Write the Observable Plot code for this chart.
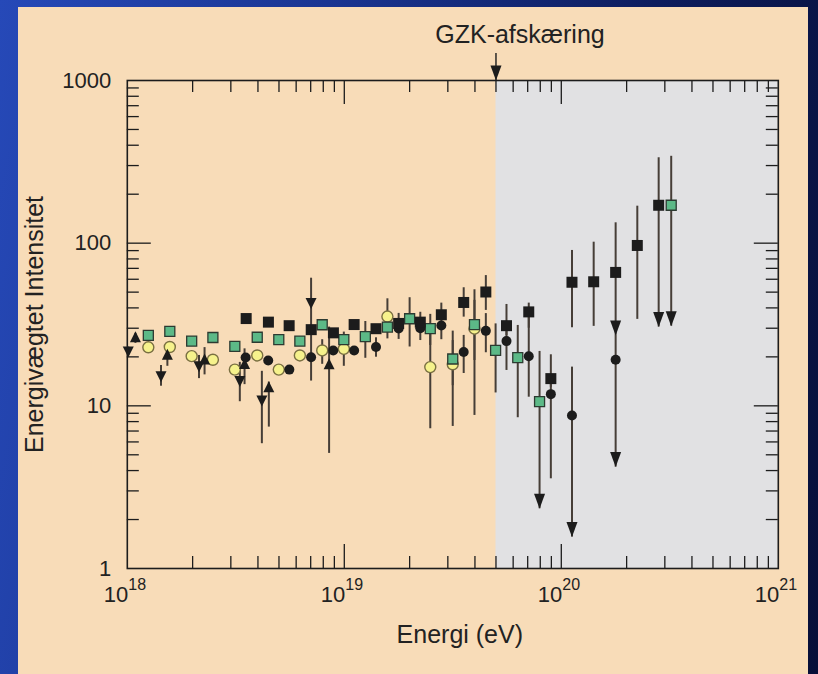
<!DOCTYPE html>
<html><head><meta charset="utf-8">
<script src="https://cdn.jsdelivr.net/npm/d3@7"></script>
<script src="https://cdn.jsdelivr.net/npm/@observablehq/plot@0.6"></script>
<style>
html,body{margin:0;padding:0;}
body{width:818px;height:674px;overflow:hidden;position:relative;
 background: linear-gradient(100deg,#2649b8 0%,#1a3592 35%,#0d1d5e 70%,#070f38 100%);}
#panel{position:absolute;left:18px;top:7px;width:790px;height:667px;background:#f8dcb8;}
#chart{position:absolute;left:0;top:0;}
</style></head><body><div id="panel"></div><div id="chart"></div>
<script>
// ---------- data ----------
const xTitle = "Energi (eV)";
const yTitle = "Energivægtet Intensitet";
const gzkLabel = "GZK-afskæring";
const gzkE = 5e19;
const xDecades = [1e18, 1e19, 1e20, 1e21];
const xExponents = ["18", "19", "20", "21"];
const yTicks = [1, 10, 100, 1000];
const yTickLabels = ["1", "10", "100", "1000"];

// black squares
const sqE  = [3.53e18, 4.47e18, 5.57e18, 7.04e18, 8.91e18, 1.11e19, 1.40e19, 1.78e19, 2.24e19, 2.80e19, 3.55e19, 4.49e19, 5.59e19, 7.08e19, 8.95e19, 1.12e20, 1.41e20, 1.78e20, 2.24e20, 2.81e20];
const sqV  = [34.4, 32.7, 31.1, 29.4, 28.1, 31.6, 29.8, 32.1, 32.7, 36.3, 43.2, 50.1, 31.1, 37.8, 14.7, 57.5, 57.9, 66.1, 96.8, 171];
const sqLo = [null, null, null, null, null, null, null, 30, 31, 33, 35.1, 38.6, 27, 30, 13, 30.2, 30.8, 27.1, 34.0, 30.5];
const sqHi = [null, null, null, null, null, null, null, 37, 37.6, 42.8, 53.2, 63.2, 42.0, 42.8, 20.6, 90.2, 101.4, 133.4, 168.8, 335];
const sqLim = [0,0,0,0,0,0,0,0,0,0,0,0,0,0,0,0,0,1,0,1];

// black circles
const ciE  = [3.51e18, 4.46e18, 5.58e18, 7.03e18, 8.89e18, 1.11e19, 1.40e19, 1.78e19, 2.24e19, 2.80e19, 3.55e19, 4.49e19, 5.59e19, 7.08e19, 8.95e19, 1.12e20, 1.78e20];
const ciV  = [19.8, 19.0, 16.7, 19.9, 21.9, 21.9, 23.0, 29.9, 30.0, 31.2, 21.4, 28.9, 25.0, 20.2, 11.8, 8.73, 19.2];
const ciLo = [null, null, null, null, null, null, 19.9, 25.6, 25.2, 25.5, 15.8, 21.2, 16.5, 11.3, 3.56, 1.56, 4.2];
const ciHi = [null, null, null, null, null, null, 26.2, 31, 31, 33, 27.1, 36.9, 32, 37.8, 14.7, 17.3, 27.1];
const ciLim = [0,0,0,0,0,0,0,0,0,0,0,0,0,0,0,1,1];

// green squares
const grE  = [1.25e18, 1.57e18, 1.98e18, 2.48e18, 3.13e18, 3.97e18, 4.99e18, 6.24e18, 7.91e18, 9.95e18, 1.25e19, 1.58e19, 2.0e19, 2.49e19, 3.16e19, 3.98e19, 4.98e19, 6.3e19, 7.94e19, 3.21e20];
const grV  = [27.1, 28.7, 25.0, 26.3, 23.2, 26.4, 25.5, 25.0, 31.5, 25.5, 26.6, 30.5, 34.3, 29.8, 19.4, 31.6, 21.9, 19.8, 10.6, 171];
const grLo = [null, null, null, null, null, null, null, null, null, null, 19.6, null, 23.0, 23.5, 13.3, 19.0, 12.0, 8.45, 2.33, 30.9];
const grHi = [null, null, null, null, null, null, null, null, null, null, 33.0, null, 46.2, 36.5, 28.8, 51.7, 31.9, 31.2, 21.6, 342];
const grLim = [0,0,0,0,0,0,0,0,0,0,0,0,0,0,0,0,0,0,1,1];

// yellow circles
const yeE  = [1.25e18, 1.57e18, 1.98e18, 2.48e18, 3.13e18, 3.97e18, 4.99e18, 6.24e18, 7.91e18, 9.95e18, 1.58e19, 2.49e19, 3.16e19, 3.98e19];
const yeV  = [22.9, 23.0, 20.2, 19.2, 16.7, 20.4, 16.7, 20.4, 21.9, 22.4, 35.4, 17.3, 18.0, 29.8];
const yeLo = [null, null, null, null, null, null, null, null, 18.0, 17.5, 25.8, 7.23, 7.47, 8.73];
const yeHi = [null, null, null, null, null, null, null, null, 25.5, 28.4, 45.5, 29.1, 25.2, 44.5];

// down triangles
const tdE  = [1.01e18, 1.43e18, 2.14e18, 3.30e18, 4.17e18, 7.03e18];
const tdV  = [21.6, 15.2, 17.5, 14.2, 10.8, 42.8];
const tdLo = [20.4, 13.2, 14.7, 10.6, 5.85, 14.2];
const tdHi = [23.0, 17.7, 20.4, 18.5, 16.3, 60.9];

// up triangles
const tuE  = [1.09e18, 1.53e18, 2.27e18, 3.47e18, 4.49e18, 8.51e18];
const tuV  = [26.4, 20.6, 19.3, 18.1, 13.0, 18.0];
const tuLo = [24.2, 17.5, 15.5, 13.5, 7.4, 5.1];
const tuHi = [27.9, 21.9, 22.8, 22.4, 14.0, 30.5];

// ---------- build ----------
function table(E, V, Lo, Hi, Lim) {
  return E.map((e, i) => ({e, v: V[i], lo: Lo ? Lo[i] : null, hi: Hi ? Hi[i] : null, lim: Lim ? !!Lim[i] : false}));
}
const sq = table(sqE, sqV, sqLo, sqHi, sqLim);
const ci = table(ciE, ciV, ciLo, ciHi, ciLim);
const gr = table(grE, grV, grLo, grHi, grLim);
const ye = table(yeE, yeV, yeLo, yeHi);
const td = table(tdE, tdV, tdLo, tdHi);
const tu = table(tuE, tuV, tuLo, tuHi);
const all = [...sq, ...ci, ...gr, ...ye, ...td, ...tu];

const xMinor = [], xMajor = [1e19, 1e20];
for (let d = 18; d < 21; d++) for (let k = 2; k <= 9; k++) xMinor.push(k * Math.pow(10, d));
const yMinor = [], yMajor = [10, 100];
for (let d = 0; d < 3; d++) for (let k = 2; k <= 9; k++) yMinor.push(k * Math.pow(10, d));

const W = 818, H = 674, mL = 126.8, mR = 40.2, mT = 80, mB = 106;
const fw = W - mL - mR, fh = H - mT - mB;

const triDownSym = {draw(c) { c.moveTo(-5.5, -5); c.lineTo(5.5, -5); c.lineTo(0, 6); c.closePath(); }};
const triUpSym   = {draw(c) { c.moveTo(-5.5, 5); c.lineTo(5.5, 5); c.lineTo(0, -6); c.closePath(); }};
const arrowSym   = {draw(c) { c.moveTo(0, 0); c.lineTo(-5.5, -15); c.lineTo(5.5, -15); c.closePath(); }};
const bigSquare  = {draw(c) { c.rect(-5.5, -5.5, 11, 11); }};
const squareSym  = {draw(c) { c.rect(-5, -5, 10, 10); }};

const ink = "#1c1c1c";
const errColor = "#463e37";
const txt = "#222";
const font = "'Liberation Sans', Arial, Helvetica, sans-serif";

const chart = Plot.plot({
  width: W, height: H,
  marginLeft: mL, marginRight: mR, marginTop: mT, marginBottom: mB,
  style: {background: "transparent", fontFamily: font, color: txt, overflow: "visible"},
  x: {type: "log", domain: [1e18, 1e21], axis: null},
  y: {type: "log", domain: [1, 1000], axis: null},
  marks: [
    // grey GZK region
    Plot.rect([gzkE], {x1: d => d, x2: 1e21, y1: 1, y2: 1000, fill: "#e1e1e3"}),
    // ticks (inward, all four sides)
    Plot.ruleX(xMinor, {x: d => d, insetTop: fh - 12, stroke: ink, strokeWidth: 1.3}),
    Plot.ruleX(xMinor, {x: d => d, insetBottom: fh - 12, stroke: ink, strokeWidth: 1.3}),
    Plot.ruleX(xMajor, {x: d => d, insetTop: fh - 24, stroke: ink, strokeWidth: 1.3}),
    Plot.ruleX(xMajor, {x: d => d, insetBottom: fh - 24, stroke: ink, strokeWidth: 1.3}),
    Plot.ruleY(yMinor, {y: d => d, insetRight: fw - 12, stroke: ink, strokeWidth: 1.3}),
    Plot.ruleY(yMinor, {y: d => d, insetLeft: fw - 12, stroke: ink, strokeWidth: 1.3}),
    Plot.ruleY(yMajor, {y: d => d, insetRight: fw - 24, stroke: ink, strokeWidth: 1.3}),
    Plot.ruleY(yMajor, {y: d => d, insetLeft: fw - 24, stroke: ink, strokeWidth: 1.3}),
    Plot.frame({stroke: ink, strokeWidth: 1.6}),
    // error bars
    Plot.ruleX(all.filter(d => d.lo != null), {x: "e", y1: "lo", y2: "hi", stroke: errColor, strokeWidth: 2}),
    Plot.dot(all.filter(d => d.lim), {x: "e", y: "lo", symbol: arrowSym, fill: ink, stroke: "none"}),
    // markers
    Plot.dot(ye, {x: "e", y: "v", r: 5.5, fill: "#f6f28c", stroke: "#7a7042", strokeWidth: 1.4}),
    Plot.dot(gr, {x: "e", y: "v", symbol: squareSym, fill: "#5cb987", stroke: "#2c3a31", strokeWidth: 1.3}),
    Plot.dot(ci, {x: "e", y: "v", r: 5, fill: ink, stroke: "none"}),
    Plot.dot(sq, {x: "e", y: "v", symbol: bigSquare, fill: ink, stroke: "none"}),
    Plot.dot(td, {x: "e", y: "v", symbol: triDownSym, fill: ink, stroke: "none"}),
    Plot.dot(tu, {x: "e", y: "v", symbol: triUpSym, fill: ink, stroke: "none"}),
    // tick labels
    Plot.text(yTicks, {y: d => d, text: (d, i) => yTickLabels[i], frameAnchor: "left", textAnchor: "end", lineAnchor: "middle", dx: -16, fontSize: 22, fill: txt}),
    Plot.text(xDecades, {x: d => d, text: () => "10", frameAnchor: "bottom", textAnchor: "end", lineAnchor: "middle", dx: 1, dy: 26.5, fontSize: 22, fill: txt}),
    Plot.text(xDecades, {x: d => d, text: (d, i) => xExponents[i], frameAnchor: "bottom", textAnchor: "start", lineAnchor: "middle", dx: 1, dy: 16.5, fontSize: 16, fill: txt}),
    // axis titles
    Plot.text([xTitle], {text: d => d, frameAnchor: "bottom", textAnchor: "middle", lineAnchor: "middle", dx: 7, dy: 66, fontSize: 25, fill: txt}),
    Plot.text([yTitle], {text: d => d, frameAnchor: "left", textAnchor: "middle", lineAnchor: "middle", rotate: -90, dx: -92, fontSize: 25, fill: txt}),
    // GZK annotation
    Plot.ruleX([gzkE], {x: d => d, insetBottom: fh, insetTop: -27, stroke: ink, strokeWidth: 1.4}),
    Plot.dot([gzkE], {x: d => d, frameAnchor: "top", symbol: arrowSym, fill: ink, stroke: "none"}),
    Plot.text([gzkLabel], {x: () => gzkE, text: d => d, frameAnchor: "top", textAnchor: "middle", lineAnchor: "middle", dx: 24, dy: -46, fontSize: 25, fill: txt})
  ]
});
document.getElementById("chart").appendChild(chart);
</script></body></html>
